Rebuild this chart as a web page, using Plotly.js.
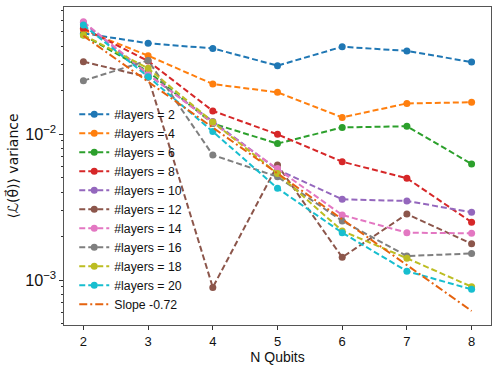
<!DOCTYPE html>
<html>
<head>
<meta charset="utf-8">
<script src="https://cdn.plot.ly/plotly-3.0.1.min.js"></script>
<style>html,body{margin:0;padding:0;background:#fff;}#chart{width:498px;height:370px;}</style>
</head>
<body>
<div id="chart"></div>
<script>
const nQubits = [2, 3, 4, 5, 6, 7, 8];
const layers2  = [0.049, 0.0418, 0.0386, 0.0294, 0.0396, 0.0371, 0.0311];
const layers4  = [0.0517, 0.0344, 0.0220, 0.0193, 0.0130, 0.0162, 0.0165];
const layers6  = [0.0476, 0.0268, 0.0118, 0.0086, 0.0111, 0.0113, 0.00624];
const layers8  = [0.053, 0.0316, 0.0144, 0.00995, 0.00646, 0.00498, 0.00249];
const layers10 = [0.058, 0.0255, 0.0122, 0.0057, 0.00357, 0.00348, 0.00291];
const layers12 = [0.0313, 0.0245, 0.00089, 0.00613, 0.00143, 0.00283, 0.00177];
const layers14 = [0.0587, 0.0258, 0.0119, 0.0058, 0.00279, 0.00211, 0.00209];
const layers16 = [0.0232, 0.0319, 0.00718, 0.0051, 0.00254, 0.00146, 0.00152];
const layers18 = [0.0476, 0.0282, 0.0121, 0.00537, 0.00217, 0.00141, 0.0009];
const layers20 = [0.0558, 0.0247, 0.0104, 0.00425, 0.00211, 0.00115, 0.000863];
const slopeX = [2, 8];
const slopeY = [0.047, 0.000614];
const seriesNames = ['#layers = 2','#layers = 4','#layers = 6','#layers = 8','#layers = 10','#layers = 12','#layers = 14','#layers = 16','#layers = 18','#layers = 20'];
const seriesValues = [layers2, layers4, layers6, layers8, layers10, layers12, layers14, layers16, layers18, layers20];
const colors = ['#1f77b4','#ff7f0e','#2ca02c','#d62728','#9467bd','#8c564b','#e377c2','#7f7f7f','#bcbd22','#17becf'];

const traces = seriesValues.map((vals, i) => ({
  x: nQubits, y: vals, name: seriesNames[i], type: 'scatter', mode: 'lines+markers',
  line: {color: colors[i], width: 2, dash: '6px,3px'},
  marker: {color: colors[i], size: 7}
}));
traces.push({
  x: slopeX, y: slopeY, name: 'Slope -0.72', type: 'scatter', mode: 'lines',
  line: {color: '#e5630f', width: 2, dash: '8px,3px,2px,3px'}
});

const fam = 'Liberation Sans, Arial, sans-serif';
const layout = {
  width: 498, height: 370,
  margin: {l: 64, r: 7, t: 7, b: 45},
  paper_bgcolor: '#fff', plot_bgcolor: '#fff',
  font: {family: fam, size: 13, color: '#111'},
  showlegend: true,
  legend: {x: 0.024, xanchor: 'left', y: 0.02, yanchor: 'bottom', bgcolor: 'rgba(0,0,0,0)',
           font: {family: fam, size: 12.3, color: '#111'}, tracegroupgap: 0},
  xaxis: {
    range: [1.7, 8.3], tickvals: nQubits, ticks: 'outside', ticklen: 4, tickcolor: '#333',
    showgrid: false, zeroline: false, showline: true, linecolor: '#555', linewidth: 1.2, mirror: true,
    tickfont: {size: 13, family: fam, color: '#111'},
    title: {text: 'N Qubits', font: {size: 14, family: fam, color: '#111'}, standoff: 4}
  },
  yaxis: {
    type: 'log', range: [-3.308, -1.130], dtick: 1, exponentformat: 'power',
    ticks: 'outside', ticklen: 4, tickcolor: '#333',
    minor: {ticks: 'outside', ticklen: 2, tickcolor: '#333', dtick: 'D1', showgrid: false},
    showgrid: false, zeroline: false, showline: true, linecolor: '#555', linewidth: 1.2, mirror: true,
    tickfont: {size: 13, family: fam, color: '#111'},
    title: {text: '⟨ℒ(θ⃗)⟩ variance', font: {size: 14, family: 'DejaVu Sans, Noto Sans, sans-serif', color: '#111'}, standoff: 3}
  }
};
Plotly.newPlot('chart', traces, layout, {staticPlot: true, displayModeBar: false});
</script>
</body>
</html>
